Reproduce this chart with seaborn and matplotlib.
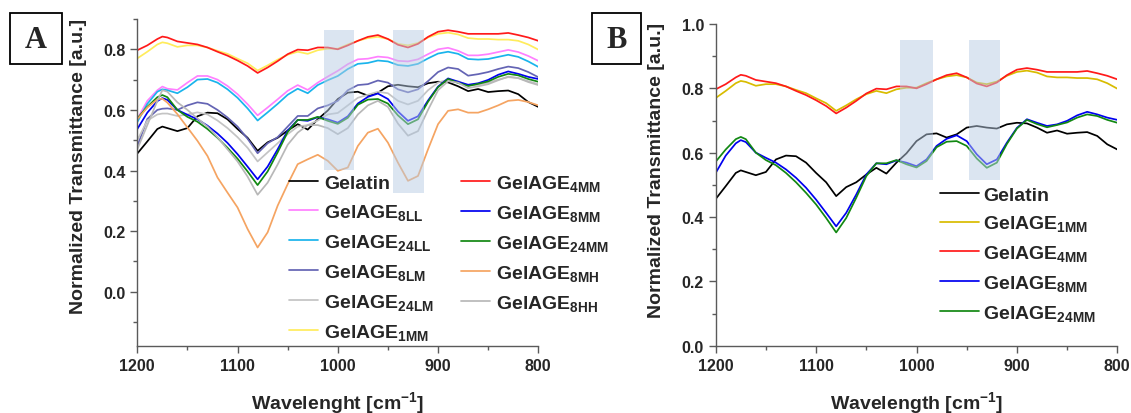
import numpy as np
import pandas as pd
import matplotlib
matplotlib.use("Agg")
import matplotlib.pyplot as plt
from matplotlib.ticker import MultipleLocator
from matplotlib.patches import Rectangle
import seaborn as sns

# ---------------------------------------------------------------- data
wavenumber = [1200, 1190, 1180, 1175, 1170, 1160, 1150, 1140, 1130, 1120, 1110,
              1100, 1090, 1080, 1070, 1060, 1050, 1040, 1030, 1020, 1010,
              1000, 990, 980, 970, 960, 950, 940, 930, 920, 910,
              900, 890, 880, 870, 860, 850, 840, 830, 820, 810, 800]

gelatin = [.456, .496, .537, .545, .540, .530, .540, .579, .591, .589, .569,
           .537, .508, .465, .493, .508, .532, .553, .535, .569, .598,
           .636, .657, .660, .647, .657, .678, .683, .678, .675, .688,
           .693, .691, .678, .662, .669, .659, .662, .664, .652, .626, .610]

gelage_8ll = [.570, .630, .665, .677, .670, .666, .690, .712, .712, .700, .679,
              .652, .619, .582, .608, .635, .663, .682, .666, .690, .710,
              .729, .751, .767, .769, .776, .773, .762, .760, .767, .784,
              .800, .805, .795, .780, .780, .784, .791, .798, .791, .778, .762]

gelage_24ll = [.560, .620, .660, .668, .665, .655, .675, .700, .702, .690, .668,
               .640, .605, .565, .592, .620, .650, .670, .655, .682, .698,
               .712, .735, .752, .755, .763, .760, .748, .745, .752, .770,
               .786, .792, .785, .768, .766, .768, .775, .782, .775, .760, .742]

gelage_8lm = [.480, .570, .600, .604, .605, .600, .615, .625, .620, .600, .575,
              .545, .505, .457, .490, .510, .545, .580, .580, .605, .615,
              .630, .665, .682, .685, .697, .690, .668, .658, .668, .695,
              .725, .740, .735, .713, .718, .725, .735, .743, .738, .725, .708]

gelage_24lm = [.500, .565, .585, .588, .588, .580, .585, .592, .585, .565, .540,
               .510, .475, .430, .460, .490, .520, .545, .550, .565, .585,
               .590, .615, .640, .650, .660, .655, .630, .618, .630, .665,
               .690, .700, .695, .680, .683, .690, .700, .708, .705, .695, .685]

gelage_1mm = [.770, .792, .816, .823, .820, .808, .813, .813, .806, .795, .785,
              .769, .754, .730, .747, .766, .782, .792, .785, .797, .802,
              .802, .816, .828, .837, .841, .834, .818, .813, .821, .839,
              .851, .855, .849, .837, .834, .834, .832, .832, .828, .816, .799]

gelage_4mm = [.797, .813, .834, .842, .839, .826, .821, .816, .806, .792, .779,
              .763, .745, .722, .740, .761, .784, .799, .797, .806, .806,
              .800, .813, .828, .841, .847, .834, .815, .806, .818, .841,
              .858, .863, .858, .851, .851, .851, .851, .854, .847, .839, .828]

gelage_8mm = [.537, .591, .629, .639, .633, .600, .584, .569, .548, .522, .491,
              .454, .413, .371, .413, .470, .532, .567, .564, .576, .569,
              .558, .579, .621, .643, .654, .636, .595, .564, .579, .631,
              .677, .704, .693, .683, .688, .699, .716, .727, .719, .709, .702]

gelage_24mm = [.572, .610, .642, .649, .642, .600, .577, .561, .537, .508, .475,
               .439, .397, .352, .397, .460, .527, .567, .567, .577, .564,
               .554, .574, .617, .634, .636, .621, .582, .553, .569, .627,
               .675, .702, .689, .679, .686, .694, .709, .719, .714, .702, .693]

gelage_8mh = [.569, .608, .635, .637, .624, .586, .542, .498, .448, .377, .327,
              .278, .207, .146, .196, .284, .355, .421, .437, .452, .432,
              .399, .410, .481, .525, .538, .492, .426, .366, .382, .470,
              .553, .597, .602, .591, .591, .602, .615, .630, .633, .626, .615]

gelage_8hh = [.470, .550, .630, .665, .660, .625, .600, .572, .545, .510, .470,
              .430, .380, .320, .360, .420, .485, .525, .550, .550, .540,
              .520, .540, .585, .615, .630, .610, .555, .515, .530, .600,
              .665, .695, .690, .672, .678, .685, .698, .710, .705, .692, .682]

# highlighted absorption bands: (high cm-1, low cm-1, bottom, top)
bands_a = [(1014, 984, 0.402, 0.863), (945, 914, 0.326, 0.863)]
bands_b = [(1016, 984, 0.515, 0.95), (948, 917, 0.515, 0.95)]

# ---------------------------------------------------------------- style
sns.set_style("ticks")
plt.rcParams["font.family"] = ["Liberation Sans", "DejaVu Sans"]
plt.rcParams["font.weight"] = "bold"
plt.rcParams["axes.labelweight"] = "bold"
plt.rcParams["mathtext.fontset"] = "custom"
plt.rcParams["mathtext.rm"] = "Liberation Sans:bold"
plt.rcParams["mathtext.it"] = "Liberation Sans:bold"
plt.rcParams["mathtext.bf"] = "Liberation Sans:bold"
plt.rcParams["mathtext.default"] = "rm"

SPINE = "#5a5a5a"
LEGEND_FONT = {"family": "Liberation Sans", "weight": "bold", "size": 14}


def sub(s):
    return "GelAGE$_{" + s + "}$"


series_a = [
    ("Gelatin", gelatin, "#000000"),
    (sub("8LL"), gelage_8ll, "#ff80ff"),
    (sub("24LL"), gelage_24ll, "#1ab4ec"),
    (sub("8LM"), gelage_8lm, "#6464b4"),
    (sub("24LM"), gelage_24lm, "#c4c4c4"),
    (sub("1MM"), gelage_1mm, "#ffec5c"),
    (sub("4MM"), gelage_4mm, "#ff1a1a"),
    (sub("8MM"), gelage_8mm, "#0000f0"),
    (sub("24MM"), gelage_24mm, "#128812"),
    (sub("8MH"), gelage_8mh, "#f5a462"),
    (sub("8HH"), gelage_8hh, "#b8b8b8"),
]

series_b = [
    ("Gelatin", gelatin, "#000000"),
    (sub("1MM"), gelage_1mm, "#d8bc00"),
    (sub("4MM"), gelage_4mm, "#ff1a1a"),
    (sub("8MM"), gelage_8mm, "#0000f0"),
    (sub("24MM"), gelage_24mm, "#128812"),
]

fig = plt.figure(figsize=(11.31, 4.14), dpi=100)
W, H = 1131, 414
ax_a = fig.add_axes([137.3 / W, (H - 347.3) / H, 401.0 / W, 327.3 / H])
ax_b = fig.add_axes([715.7 / W, (H - 346.7) / H, 401.6 / W, 321.7 / H])


def draw(ax, series, bands):
    for label, vals, color in series:
        df = pd.DataFrame({"wn": wavenumber, "T": vals})
        sns.lineplot(data=df, x="wn", y="T", color=color, lw=1.25,
                     label=label, ax=ax, sort=False)
    for hi, lo, bottom, top in bands:
        ax.fill_between([lo, hi], bottom, top, color="#b8cce4",
                        alpha=0.5, lw=0, zorder=5)
    ax.set_xlim(1200, 800)
    ax.xaxis.set_major_locator(MultipleLocator(100))
    ax.xaxis.set_minor_locator(MultipleLocator(50))
    ax.yaxis.set_minor_locator(MultipleLocator(0.1))
    ax.tick_params(which="major", direction="out", length=5, width=1.0,
                   color=SPINE, labelsize=11.5, pad=3.5)
    ax.tick_params(which="minor", direction="out", length=3, width=1.0,
                   color=SPINE)
    for lab in ax.get_xticklabels():
        lab.set_fontweight("bold")
    sns.despine(ax=ax)
    for s in ("left", "bottom"):
        ax.spines[s].set_color(SPINE)
        ax.spines[s].set_linewidth(1.0)


# ---- panel A
draw(ax_a, series_a, bands_a)
ax_a.set_ylim(-0.18, 0.90)
ax_a.set_yticks([0.0, 0.2, 0.4, 0.6, 0.8])
ax_a.set_yticklabels(["0.0", "0.2", "0.4", "0.6", "0.8"], fontweight="bold")
ax_a.set_xlabel("Wavelenght [cm$^{-1}$]", fontsize=14, fontweight="bold",
                va="baseline")
ax_a.set_ylabel("Normalized Transmittance [a.u.]", fontsize=14,
                fontweight="bold")
ax_a.xaxis.set_label_coords(0.5, -0.1875)
ax_a.yaxis.set_label_coords(-0.1254, 0.552)
ax_a.legend(loc="upper left", bbox_to_anchor=(0.378, 0.531), ncol=2,
            frameon=False, borderpad=0, borderaxespad=0, handlelength=1.5,
            handletextpad=0.3, columnspacing=1.4, labelspacing=0.52,
            prop=LEGEND_FONT)

# ---- panel B
draw(ax_b, series_b, bands_b)
ax_b.set_ylim(0.0, 1.0)
ax_b.set_yticks([0.0, 0.2, 0.4, 0.6, 0.8, 1.0])
ax_b.set_yticklabels(["0.0", "0.2", "0.4", "0.6", "0.8", "1.0"],
                     fontweight="bold")
ax_b.set_xlabel("Wavelength [cm$^{-1}$]", fontsize=14, fontweight="bold",
                va="baseline")
ax_b.set_ylabel("Normalized Transmittance [a.u.]", fontsize=14,
                fontweight="bold")
ax_b.xaxis.set_label_coords(0.5, -0.1925)
ax_b.yaxis.set_label_coords(-0.126, 0.549)
ax_b.legend(loc="upper left", bbox_to_anchor=(0.5585, 0.496), ncol=1,
            frameon=False, borderpad=0, borderaxespad=0, handlelength=2.0,
            handletextpad=0.2, labelspacing=0.5, prop=LEGEND_FONT)

# ---- panel letters in boxes
for (x0, x1, cx), letter in (((10, 61.7, 36), "A"), ((592.3, 640.7, 616.5), "B")):
    fig.add_artist(Rectangle((x0 / W, (H - 65) / H), (x1 - x0) / W, 51 / H,
                             transform=fig.transFigure, fill=False,
                             edgecolor="black", lw=1.3))
    fig.text(cx / W, (H - 40.5) / H, letter, ha="center", va="center",
             fontsize=22, fontweight="bold", family="Liberation Serif")

fig.savefig("out.png", dpi=100)
